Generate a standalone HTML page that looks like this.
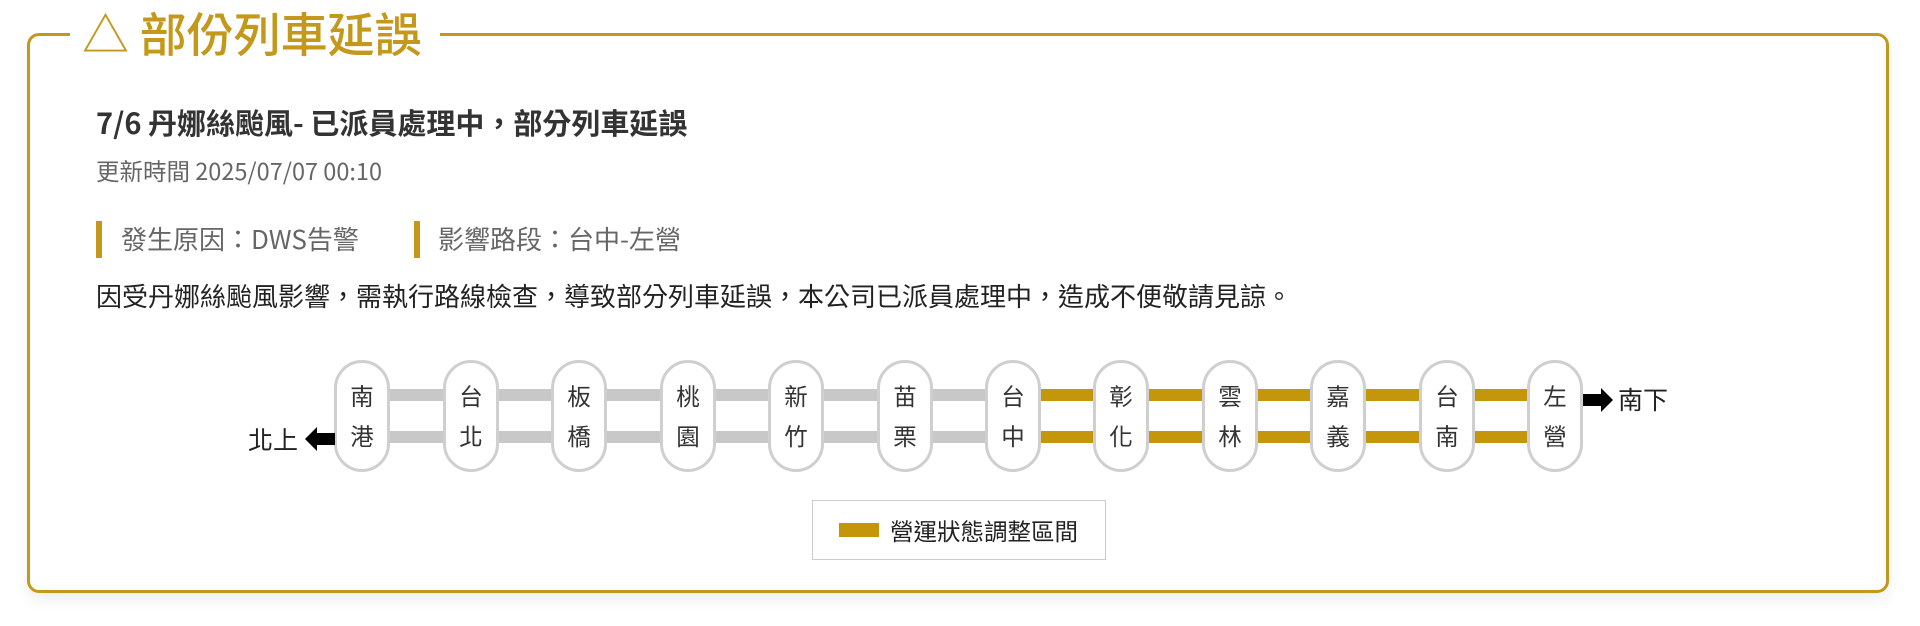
<!DOCTYPE html>
<html><head><meta charset="utf-8"><style>
body{margin:0;width:1920px;height:626px;background:#fff;position:relative;overflow:hidden;font-family:"Noto Sans CJK TC","Liberation Sans",sans-serif;}
.abs{position:absolute;}
.frame{left:27px;top:33px;width:1862px;height:560px;border:3px solid #c4981a;border-radius:12px;box-sizing:border-box;box-shadow:0 8px 14px rgba(0,0,0,0.06);}
.gap{left:70px;top:20px;width:370px;height:20px;background:#fff;}
.title{left:82px;top:1px;font-size:47px;font-weight:500;color:#c4981a;line-height:62px;white-space:nowrap;}
.t{color:#333;white-space:nowrap;}
.bar{width:6px;height:37px;background:#c4981a;}
.line{height:12px;}
.g{background:#c8c8c8;}
.y{background:#c4960c;}
.st{width:56px;height:112px;border:3px solid #cfcfcf;border-radius:28px;background:#fff;box-sizing:border-box;font-size:23.5px;color:#333;text-align:center;line-height:40px;padding-top:12px;}
</style></head><body>
<div class="abs frame"></div>
<div class="abs gap"></div>
<div class="abs title">△ 部份列車延誤</div>
<div class="abs t" style="left:96px;top:102px;font-size:29px;font-weight:bold;line-height:40px;">7/6 丹娜絲颱風- 已派員處理中，部分列車延誤</div>
<div class="abs t" style="left:96px;top:153px;font-size:23.5px;color:#666;line-height:34px;">更新時間 2025/07/07 00:10</div>
<div class="abs bar" style="left:96px;top:221px;"></div>
<div class="abs t" style="left:121px;top:220px;font-size:26px;color:#666;line-height:38px;">發生原因：DWS告警</div>
<div class="abs bar" style="left:414px;top:221px;"></div>
<div class="abs t" style="left:438px;top:220px;font-size:26px;color:#666;line-height:38px;">影響路段：台中-左營</div>
<div class="abs t" style="left:96px;top:277px;font-size:26px;color:#222;line-height:38px;">因受丹娜絲颱風影響，需執行路線檢查，導致部分列車延誤，本公司已派員處理中，造成不便敬請見諒。</div>

<div class="abs line g" style="left:362px;top:389px;width:651px;"></div>
<div class="abs line g" style="left:362px;top:431px;width:651px;"></div>
<div class="abs line y" style="left:1013px;top:389px;width:542px;"></div>
<div class="abs line y" style="left:1013px;top:431px;width:542px;"></div>

<div class="abs st" style="left:334px;top:360px;">南<br>港</div>
<div class="abs st" style="left:443px;top:360px;">台<br>北</div>
<div class="abs st" style="left:551px;top:360px;">板<br>橋</div>
<div class="abs st" style="left:660px;top:360px;">桃<br>園</div>
<div class="abs st" style="left:768px;top:360px;">新<br>竹</div>
<div class="abs st" style="left:877px;top:360px;">苗<br>栗</div>
<div class="abs st" style="left:985px;top:360px;">台<br>中</div>
<div class="abs st" style="left:1093px;top:360px;">彰<br>化</div>
<div class="abs st" style="left:1202px;top:360px;">雲<br>林</div>
<div class="abs st" style="left:1310px;top:360px;">嘉<br>義</div>
<div class="abs st" style="left:1419px;top:360px;">台<br>南</div>
<div class="abs st" style="left:1527px;top:360px;">左<br>營</div>

<div class="abs t" style="left:248px;top:421px;font-size:25px;color:#222;line-height:36px;">北上</div>
<svg class="abs" style="left:305px;top:426px" width="30" height="26"><polygon points="0,13 12,1 12,7 30,7 30,19 12,19 12,25" fill="#000"/></svg>
<svg class="abs" style="left:1583px;top:387px" width="30" height="26"><polygon points="30,13 18,1 18,7 0,7 0,19 18,19 18,25" fill="#000"/></svg>
<div class="abs t" style="left:1618px;top:381px;font-size:25px;color:#222;line-height:36px;">南下</div>

<div class="abs" style="left:812px;top:500px;width:294px;height:60px;border:1px solid #ccc;box-sizing:border-box;"></div>
<div class="abs y" style="left:839px;top:523px;width:40px;height:14px;"></div>
<div class="abs t" style="left:890px;top:513px;font-size:23.5px;color:#222;line-height:34px;">營運狀態調整區間</div>
</body></html>
